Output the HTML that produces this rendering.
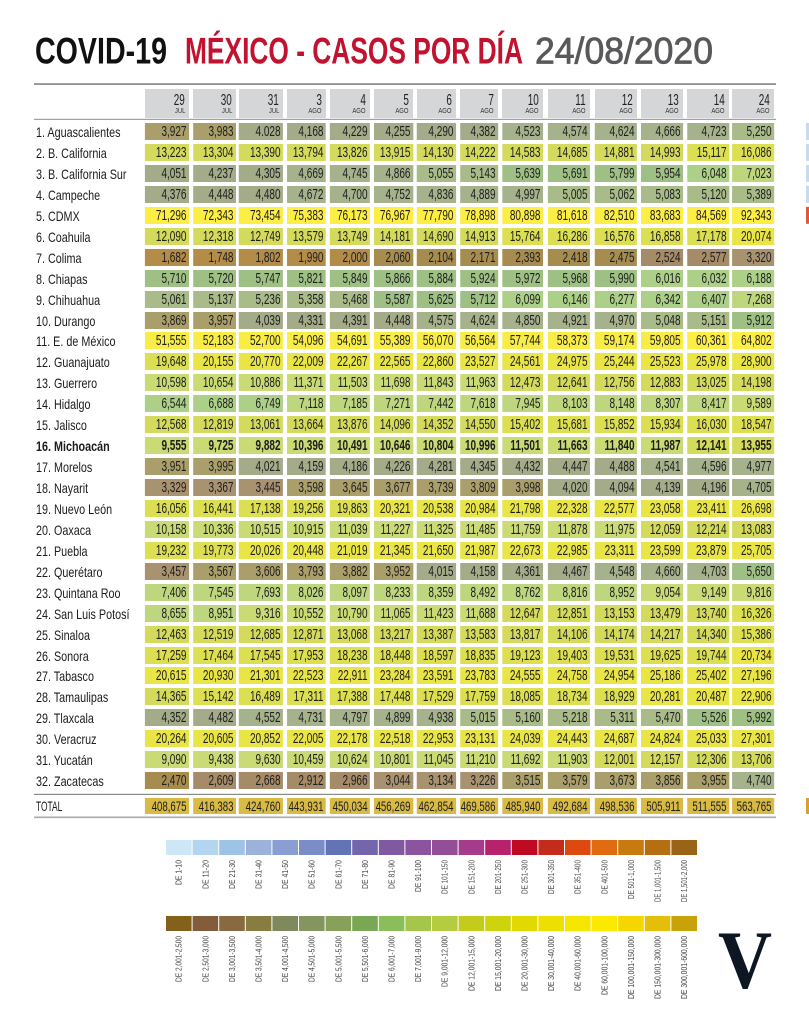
<!DOCTYPE html>
<html><head><meta charset="utf-8">
<style>
html,body{margin:0;padding:0}
body{width:809px;height:1024px;background:#fff;position:relative;overflow:hidden;font-family:"Liberation Sans",sans-serif;}
svg.bg{position:absolute;left:0;top:0}
.w{position:absolute;left:0;width:809px;height:17px}
.lb{position:absolute;left:36px;top:0;line-height:19px;font-size:14px;color:#1c1c1c;white-space:nowrap;transform:scaleX(.77);transform-origin:0 0}
.bd .lb,.bd i{font-weight:bold}
.n{position:absolute;left:0;top:0;width:1200px;height:17px;transform:scaleX(.69);transform-origin:0 0}
.n i{position:absolute;top:0;height:17px;line-height:19px;font-size:14.5px;font-style:normal;text-align:right;padding-right:3.6px;box-sizing:border-box;color:#1e1e1e;white-space:nowrap}
.tot .n i{height:16px;line-height:17px;font-size:14px}
.tot .lb{transform:scaleX(.6);line-height:17px}
.x0{left:210.1px;width:63.8px}.x1{left:279.7px;width:62.3px}.x2{left:346.4px;width:63.8px}
.x3{left:415.9px;width:56.5px}.x4{left:478.3px;width:58px}.x5{left:542px;width:56.5px}
.x6{left:604.3px;width:56.5px}.x7{left:666.7px;width:55.1px}.x8{left:727.5px;width:59.4px}
.x9{left:794.2px;width:60.9px}.x10{left:862.3px;width:60.9px}.x11{left:929px;width:60.9px}
.x12{left:995.7px;width:60.9px}.x13{left:1060.9px;width:60.9px}
.k{background:#b38c4a}.a{background:#a78c50}.b{background:#a68b68}.c{background:#a99270}
.d{background:#aa9f6a}.e{background:#a3ab89}.f{background:#a6b28c}.g{background:#a8bb88}
.h{background:#9fc084}.i{background:#acd088}.j{background:#bed67d}.l{background:#cada74}
.m{background:#d4db5c}.p{background:#dcdf52}.o{background:#e9e547}.q{background:#f8ed47}
.s{background:#fcee45}.t{background:#d9ba45}
.hb{position:absolute;top:89px;height:29px;background:#d5d6d8}
.hb b{position:absolute;right:4px;top:3.5px;font-size:16px;line-height:16px;font-weight:normal;color:#222;transform:scaleX(.62);transform-origin:100% 0;white-space:nowrap}
.hb u{position:absolute;right:4px;top:18.6px;font-size:7px;line-height:7px;text-decoration:none;color:#333;transform:scaleX(.85);transform-origin:100% 0;white-space:nowrap}
</style></head>
<body>
<svg class="bg" width="809" height="1024" viewBox="0 0 809 1024">
<g font-family="Liberation Sans" font-size="37">
<text x="35" y="63.5" font-weight="bold" textLength="132" lengthAdjust="spacingAndGlyphs" fill="#111">COVID-19</text>
<text x="185" y="63.5" font-weight="bold" textLength="338" lengthAdjust="spacingAndGlyphs" fill="#c1122f">MÉXICO - CASOS POR DÍA</text>
<text x="535" y="63.5" textLength="178" lengthAdjust="spacingAndGlyphs" fill="#58595b" stroke="#58595b" stroke-width="0.8">24/08/2020</text>
</g>
<rect x="34" y="83.3" width="742" height="1.5" fill="#7a7a7a"/>
<rect x="34" y="118.8" width="742" height="1" fill="#8a8a8a"/>
<rect x="34" y="793.8" width="742" height="1.2" fill="#8a8a8a"/>
<rect x="34" y="816.5" width="742" height="1.6" fill="#aaaaaa"/>
<!-- right edge strip -->
<g fill="#c6dbef">
<rect x="806" y="123" width="3" height="17"/><rect x="806" y="143.9" width="3" height="17"/><rect x="806" y="164.9" width="3" height="17"/><rect x="806" y="185.8" width="3" height="17"/>
</g>
<rect x="806" y="206.8" width="3" height="17" fill="#e0583a"/>
<rect x="806" y="798" width="3" height="16" fill="#d9a030"/>
<!-- legend row 1 -->
<g>
<rect x="166" y="840" width="25.6" height="15" fill="#cde7f6"/>
<rect x="192.6" y="840" width="25.6" height="15" fill="#b2d6ef"/>
<rect x="219.2" y="840" width="25.6" height="15" fill="#9ec3e5"/>
<rect x="245.8" y="840" width="25.6" height="15" fill="#9db2da"/>
<rect x="272.4" y="840" width="25.6" height="15" fill="#8a9ed1"/>
<rect x="299" y="840" width="25.6" height="15" fill="#7c8cc6"/>
<rect x="325.6" y="840" width="25.6" height="15" fill="#6473b4"/>
<rect x="352.2" y="840" width="25.6" height="15" fill="#7466ad"/>
<rect x="378.8" y="840" width="25.6" height="15" fill="#7f5aa1"/>
<rect x="405.4" y="840" width="25.6" height="15" fill="#8a559e"/>
<rect x="432" y="840" width="25.6" height="15" fill="#924f97"/>
<rect x="458.6" y="840" width="25.6" height="15" fill="#a43c8a"/>
<rect x="485.2" y="840" width="25.6" height="15" fill="#b6226c"/>
<rect x="511.8" y="840" width="25.6" height="15" fill="#be0b22"/>
<rect x="538.4" y="840" width="25.6" height="15" fill="#c52b1c"/>
<rect x="565" y="840" width="25.6" height="15" fill="#dc4a10"/>
<rect x="591.6" y="840" width="25.6" height="15" fill="#e06b10"/>
<rect x="618.2" y="840" width="25.6" height="15" fill="#c67a10"/>
<rect x="644.8" y="840" width="25.6" height="15" fill="#b46f10"/>
<rect x="671.4" y="840" width="25.6" height="15" fill="#9a6418"/>
</g>
<!-- legend row 2 -->
<g>
<rect x="166" y="916" width="25.6" height="15" fill="#84611a"/>
<rect x="192.6" y="916" width="25.6" height="15" fill="#835c3b"/>
<rect x="219.2" y="916" width="25.6" height="15" fill="#876a3f"/>
<rect x="245.8" y="916" width="25.6" height="15" fill="#887d41"/>
<rect x="272.4" y="916" width="25.6" height="15" fill="#7f8a5c"/>
<rect x="299" y="916" width="25.6" height="15" fill="#84955f"/>
<rect x="325.6" y="916" width="25.6" height="15" fill="#87a05b"/>
<rect x="352.2" y="916" width="25.6" height="15" fill="#79a855"/>
<rect x="378.8" y="916" width="25.6" height="15" fill="#8bbd5a"/>
<rect x="405.4" y="916" width="25.6" height="15" fill="#a5c54b"/>
<rect x="432" y="916" width="25.6" height="15" fill="#b4cc3f"/>
<rect x="458.6" y="916" width="25.6" height="15" fill="#c3cb1d"/>
<rect x="485.2" y="916" width="25.6" height="15" fill="#cdd30d"/>
<rect x="511.8" y="916" width="25.6" height="15" fill="#e0da00"/>
<rect x="538.4" y="916" width="25.6" height="15" fill="#ede000"/>
<rect x="565" y="916" width="25.6" height="15" fill="#f5e600"/>
<rect x="591.6" y="916" width="25.6" height="15" fill="#fbe900"/>
<rect x="618.2" y="916" width="25.6" height="15" fill="#f6d600"/>
<rect x="644.8" y="916" width="25.6" height="15" fill="#e3be0b"/>
<rect x="671.4" y="916" width="25.6" height="15" fill="#c9a20b"/>
</g>
<g font-family="Liberation Sans" font-size="8" fill="#444" text-anchor="end" lengthAdjust="spacingAndGlyphs">
<text transform="translate(181.7,860) rotate(-90)" textLength="25" lengthAdjust="spacingAndGlyphs">DE 1-10</text>
<text transform="translate(208.3,860) rotate(-90)" textLength="29" lengthAdjust="spacingAndGlyphs">DE 11-20</text>
<text transform="translate(234.9,860) rotate(-90)" textLength="29" lengthAdjust="spacingAndGlyphs">DE 21-30</text>
<text transform="translate(261.5,860) rotate(-90)" textLength="29" lengthAdjust="spacingAndGlyphs">DE 31-40</text>
<text transform="translate(288.1,860) rotate(-90)" textLength="29" lengthAdjust="spacingAndGlyphs">DE 41-50</text>
<text transform="translate(314.7,860) rotate(-90)" textLength="29" lengthAdjust="spacingAndGlyphs">DE 51-60</text>
<text transform="translate(341.3,860) rotate(-90)" textLength="29" lengthAdjust="spacingAndGlyphs">DE 61-70</text>
<text transform="translate(367.9,860) rotate(-90)" textLength="29" lengthAdjust="spacingAndGlyphs">DE 71-80</text>
<text transform="translate(394.5,860) rotate(-90)" textLength="29" lengthAdjust="spacingAndGlyphs">DE 81-90</text>
<text transform="translate(421.1,860) rotate(-90)" textLength="32" lengthAdjust="spacingAndGlyphs">DE 91-100</text>
<text transform="translate(447.7,860) rotate(-90)" textLength="34" lengthAdjust="spacingAndGlyphs">DE 101-150</text>
<text transform="translate(474.3,860) rotate(-90)" textLength="34" lengthAdjust="spacingAndGlyphs">DE 151-200</text>
<text transform="translate(500.9,860) rotate(-90)" textLength="34" lengthAdjust="spacingAndGlyphs">DE 201-250</text>
<text transform="translate(527.5,860) rotate(-90)" textLength="34" lengthAdjust="spacingAndGlyphs">DE 251-300</text>
<text transform="translate(554.1,860) rotate(-90)" textLength="34" lengthAdjust="spacingAndGlyphs">DE 301-350</text>
<text transform="translate(580.7,860) rotate(-90)" textLength="34" lengthAdjust="spacingAndGlyphs">DE 351-400</text>
<text transform="translate(607.3,860) rotate(-90)" textLength="34" lengthAdjust="spacingAndGlyphs">DE 401-500</text>
<text transform="translate(633.9,860) rotate(-90)" textLength="39" lengthAdjust="spacingAndGlyphs">DE 501-1,000</text>
<text transform="translate(660.5,860) rotate(-90)" textLength="42" lengthAdjust="spacingAndGlyphs">DE 1,001-1,500</text>
<text transform="translate(687.1,860) rotate(-90)" textLength="42" lengthAdjust="spacingAndGlyphs">DE 1,501-2,000</text>

<text transform="translate(181.7,936) rotate(-90)" textLength="46" lengthAdjust="spacingAndGlyphs">DE 2,001-2,500</text>
<text transform="translate(208.3,936) rotate(-90)" textLength="46" lengthAdjust="spacingAndGlyphs">DE 2,501-3,000</text>
<text transform="translate(234.9,936) rotate(-90)" textLength="46" lengthAdjust="spacingAndGlyphs">DE 3,001-3,500</text>
<text transform="translate(261.5,936) rotate(-90)" textLength="46" lengthAdjust="spacingAndGlyphs">DE 3,501-4,000</text>
<text transform="translate(288.1,936) rotate(-90)" textLength="46" lengthAdjust="spacingAndGlyphs">DE 4,001-4,500</text>
<text transform="translate(314.7,936) rotate(-90)" textLength="46" lengthAdjust="spacingAndGlyphs">DE 4,501-5,000</text>
<text transform="translate(341.3,936) rotate(-90)" textLength="46" lengthAdjust="spacingAndGlyphs">DE 5,001-5,500</text>
<text transform="translate(367.9,936) rotate(-90)" textLength="46" lengthAdjust="spacingAndGlyphs">DE 5,501-6,000</text>
<text transform="translate(394.5,936) rotate(-90)" textLength="46" lengthAdjust="spacingAndGlyphs">DE 6,001-7,000</text>
<text transform="translate(421.1,936) rotate(-90)" textLength="46" lengthAdjust="spacingAndGlyphs">DE 7,001-9,000</text>
<text transform="translate(447.7,936) rotate(-90)" textLength="51" lengthAdjust="spacingAndGlyphs">DE 9,001-12,000</text>
<text transform="translate(474.3,936) rotate(-90)" textLength="55" lengthAdjust="spacingAndGlyphs">DE 12,001-15,000</text>
<text transform="translate(500.9,936) rotate(-90)" textLength="55" lengthAdjust="spacingAndGlyphs">DE 15,001-20,000</text>
<text transform="translate(527.5,936) rotate(-90)" textLength="55" lengthAdjust="spacingAndGlyphs">DE 20,001-30,000</text>
<text transform="translate(554.1,936) rotate(-90)" textLength="55" lengthAdjust="spacingAndGlyphs">DE 30,001-40,000</text>
<text transform="translate(580.7,936) rotate(-90)" textLength="55" lengthAdjust="spacingAndGlyphs">DE 40,001-60,000</text>
<text transform="translate(607.3,936) rotate(-90)" textLength="59" lengthAdjust="spacingAndGlyphs">DE 60,001-100,000</text>
<text transform="translate(633.9,936) rotate(-90)" textLength="63" lengthAdjust="spacingAndGlyphs">DE 100,001-150,000</text>
<text transform="translate(660.5,936) rotate(-90)" textLength="63" lengthAdjust="spacingAndGlyphs">DE 150,001-300,000</text>
<text transform="translate(687.1,936) rotate(-90)" textLength="63" lengthAdjust="spacingAndGlyphs">DE 300,001-600,000</text>
</g>
<text x="718" y="988" font-family="Liberation Serif" font-weight="bold" font-size="83" textLength="54" lengthAdjust="spacingAndGlyphs" fill="#0e1624">V</text>
</svg>

<!-- header -->
<div class="hb" style="left:145px;width:44px"><b>29</b><u>JUL</u></div>
<div class="hb" style="left:193px;width:43px"><b>30</b><u>JUL</u></div>
<div class="hb" style="left:239px;width:44px"><b>31</b><u>JUL</u></div>
<div class="hb" style="left:287px;width:39px"><b>3</b><u>AGO</u></div>
<div class="hb" style="left:330px;width:40px"><b>4</b><u>AGO</u></div>
<div class="hb" style="left:374px;width:39px"><b>5</b><u>AGO</u></div>
<div class="hb" style="left:417px;width:39px"><b>6</b><u>AGO</u></div>
<div class="hb" style="left:460px;width:38px"><b>7</b><u>AGO</u></div>
<div class="hb" style="left:502px;width:41px"><b>10</b><u>AGO</u></div>
<div class="hb" style="left:548px;width:42px"><b>11</b><u>AGO</u></div>
<div class="hb" style="left:595px;width:42px"><b>12</b><u>AGO</u></div>
<div class="hb" style="left:641px;width:42px"><b>13</b><u>AGO</u></div>
<div class="hb" style="left:687px;width:42px"><b>14</b><u>AGO</u></div>
<div class="hb" style="left:732px;width:42px"><b>24</b><u>AGO</u></div>

<div class="w" style="top:123px"><span class="lb">1. Aguascalientes</span><div class="n"><i class="x0 d">3,927</i><i class="x1 d">3,983</i><i class="x2 e">4.028</i><i class="x3 e">4,168</i><i class="x4 e">4,229</i><i class="x5 e">4,255</i><i class="x6 e">4,290</i><i class="x7 e">4,382</i><i class="x8 f">4,523</i><i class="x9 f">4,574</i><i class="x10 f">4,624</i><i class="x11 f">4,666</i><i class="x12 f">4,723</i><i class="x13 g">5,250</i></div></div>
<div class="w" style="top:143.9px"><span class="lb">2. B. California</span><div class="n"><i class="x0 m">13,223</i><i class="x1 m">13,304</i><i class="x2 m">13,390</i><i class="x3 m">13,794</i><i class="x4 m">13,826</i><i class="x5 m">13,915</i><i class="x6 m">14,130</i><i class="x7 m">14,222</i><i class="x8 m">14,583</i><i class="x9 m">14,685</i><i class="x10 m">14,881</i><i class="x11 m">14,993</i><i class="x12 p">15,117</i><i class="x13 p">16,086</i></div></div>
<div class="w" style="top:164.9px"><span class="lb">3. B. California Sur</span><div class="n"><i class="x0 e">4,051</i><i class="x1 e">4,237</i><i class="x2 e">4,305</i><i class="x3 f">4,669</i><i class="x4 f">4,745</i><i class="x5 f">4,866</i><i class="x6 g">5,055</i><i class="x7 g">5,143</i><i class="x8 h">5,639</i><i class="x9 h">5,691</i><i class="x10 h">5,799</i><i class="x11 h">5,954</i><i class="x12 i">6,048</i><i class="x13 j">7,023</i></div></div>
<div class="w" style="top:185.8px"><span class="lb">4. Campeche</span><div class="n"><i class="x0 e">4,376</i><i class="x1 e">4,448</i><i class="x2 e">4,480</i><i class="x3 f">4,672</i><i class="x4 f">4,700</i><i class="x5 f">4,752</i><i class="x6 f">4,836</i><i class="x7 f">4,889</i><i class="x8 f">4,997</i><i class="x9 g">5,005</i><i class="x10 g">5,062</i><i class="x11 g">5,083</i><i class="x12 g">5,120</i><i class="x13 g">5,389</i></div></div>
<div class="w" style="top:206.8px"><span class="lb">5. CDMX</span><div class="n"><i class="x0 s">71,296</i><i class="x1 s">72,343</i><i class="x2 s">73,454</i><i class="x3 s">75,383</i><i class="x4 s">76,173</i><i class="x5 s">76,967</i><i class="x6 s">77,790</i><i class="x7 s">78,898</i><i class="x8 s">80,898</i><i class="x9 s">81,618</i><i class="x10 s">82,510</i><i class="x11 s">83,683</i><i class="x12 s">84,569</i><i class="x13 s">92,343</i></div></div>
<div class="w" style="top:227.7px"><span class="lb">6. Coahuila</span><div class="n"><i class="x0 m">12,090</i><i class="x1 m">12,318</i><i class="x2 m">12,749</i><i class="x3 m">13,579</i><i class="x4 m">13,749</i><i class="x5 m">14,181</i><i class="x6 m">14,690</i><i class="x7 m">14,913</i><i class="x8 p">15,764</i><i class="x9 p">16,286</i><i class="x10 p">16,576</i><i class="x11 p">16,858</i><i class="x12 p">17,178</i><i class="x13 o">20,074</i></div></div>
<div class="w" style="top:248.6px"><span class="lb">7. Colima</span><div class="n"><i class="x0 k">1,682</i><i class="x1 k">1,748</i><i class="x2 k">1,802</i><i class="x3 k">1,990</i><i class="x4 k">2,000</i><i class="x5 a">2,060</i><i class="x6 a">2,104</i><i class="x7 a">2,171</i><i class="x8 a">2,393</i><i class="x9 a">2,418</i><i class="x10 a">2,475</i><i class="x11 b">2,524</i><i class="x12 b">2,577</i><i class="x13 c">3,320</i></div></div>
<div class="w" style="top:269.6px"><span class="lb">8. Chiapas</span><div class="n"><i class="x0 h">5,710</i><i class="x1 h">5,720</i><i class="x2 h">5,747</i><i class="x3 h">5,821</i><i class="x4 h">5,849</i><i class="x5 h">5,866</i><i class="x6 h">5,884</i><i class="x7 h">5,924</i><i class="x8 h">5,972</i><i class="x9 h">5,968</i><i class="x10 h">5,990</i><i class="x11 i">6,016</i><i class="x12 i">6,032</i><i class="x13 i">6,188</i></div></div>
<div class="w" style="top:290.5px"><span class="lb">9. Chihuahua</span><div class="n"><i class="x0 g">5,061</i><i class="x1 g">5,137</i><i class="x2 g">5,236</i><i class="x3 g">5,358</i><i class="x4 g">5,468</i><i class="x5 h">5,587</i><i class="x6 h">5,625</i><i class="x7 h">5,712</i><i class="x8 i">6,099</i><i class="x9 i">6,146</i><i class="x10 i">6,277</i><i class="x11 i">6,342</i><i class="x12 i">6,407</i><i class="x13 j">7,268</i></div></div>
<div class="w" style="top:311.5px"><span class="lb">10. Durango</span><div class="n"><i class="x0 d">3,869</i><i class="x1 d">3,957</i><i class="x2 e">4,039</i><i class="x3 e">4,331</i><i class="x4 e">4,391</i><i class="x5 e">4,448</i><i class="x6 f">4,575</i><i class="x7 f">4,624</i><i class="x8 f">4,850</i><i class="x9 f">4,921</i><i class="x10 f">4,970</i><i class="x11 g">5,048</i><i class="x12 g">5,151</i><i class="x13 h">5,912</i></div></div>
<div class="w" style="top:332.4px"><span class="lb">11. E. de México</span><div class="n"><i class="x0 q">51,555</i><i class="x1 q">52,183</i><i class="x2 q">52,700</i><i class="x3 q">54,096</i><i class="x4 q">54,691</i><i class="x5 q">55,389</i><i class="x6 q">56,070</i><i class="x7 q">56,564</i><i class="x8 q">57,744</i><i class="x9 q">58,373</i><i class="x10 q">59,174</i><i class="x11 q">59,805</i><i class="x12 s">60,361</i><i class="x13 s">64,802</i></div></div>
<div class="w" style="top:353.3px"><span class="lb">12. Guanajuato</span><div class="n"><i class="x0 p">19,648</i><i class="x1 o">20,155</i><i class="x2 o">20,770</i><i class="x3 o">22,009</i><i class="x4 o">22,267</i><i class="x5 o">22,565</i><i class="x6 o">22,860</i><i class="x7 o">23,527</i><i class="x8 o">24,561</i><i class="x9 o">24,975</i><i class="x10 o">25,244</i><i class="x11 o">25,523</i><i class="x12 o">25,978</i><i class="x13 o">28,900</i></div></div>
<div class="w" style="top:374.3px"><span class="lb">13. Guerrero</span><div class="n"><i class="x0 l">10,598</i><i class="x1 l">10,654</i><i class="x2 l">10,886</i><i class="x3 l">11,371</i><i class="x4 l">11,503</i><i class="x5 l">11,698</i><i class="x6 l">11,843</i><i class="x7 l">11,963</i><i class="x8 m">12,473</i><i class="x9 m">12,641</i><i class="x10 m">12,756</i><i class="x11 m">12,883</i><i class="x12 m">13,025</i><i class="x13 m">14,198</i></div></div>
<div class="w" style="top:395.2px"><span class="lb">14. Hidalgo</span><div class="n"><i class="x0 i">6,544</i><i class="x1 i">6,688</i><i class="x2 i">6,749</i><i class="x3 j">7,118</i><i class="x4 j">7,185</i><i class="x5 j">7,271</i><i class="x6 j">7,442</i><i class="x7 j">7,618</i><i class="x8 j">7,945</i><i class="x9 j">8,103</i><i class="x10 j">8,148</i><i class="x11 j">8,307</i><i class="x12 j">8,417</i><i class="x13 l">9,589</i></div></div>
<div class="w" style="top:416.2px"><span class="lb">15. Jalisco</span><div class="n"><i class="x0 m">12,568</i><i class="x1 m">12,819</i><i class="x2 m">13,061</i><i class="x3 m">13,664</i><i class="x4 m">13,876</i><i class="x5 m">14,096</i><i class="x6 m">14,352</i><i class="x7 m">14,550</i><i class="x8 p">15,402</i><i class="x9 p">15,681</i><i class="x10 p">15,852</i><i class="x11 p">15,934</i><i class="x12 p">16,030</i><i class="x13 p">18,547</i></div></div>
<div class="w bd" style="top:437.1px"><span class="lb">16. Michoacán</span><div class="n"><i class="x0 l">9,555</i><i class="x1 l">9,725</i><i class="x2 l">9,882</i><i class="x3 l">10,396</i><i class="x4 l">10,491</i><i class="x5 l">10,646</i><i class="x6 l">10,804</i><i class="x7 l">10,996</i><i class="x8 l">11,501</i><i class="x9 l">11,663</i><i class="x10 l">11,840</i><i class="x11 l">11,987</i><i class="x12 m">12,141</i><i class="x13 m">13,955</i></div></div>
<div class="w" style="top:458px"><span class="lb">17. Morelos</span><div class="n"><i class="x0 d">3,951</i><i class="x1 d">3,995</i><i class="x2 e">4,021</i><i class="x3 e">4,159</i><i class="x4 e">4,186</i><i class="x5 e">4,226</i><i class="x6 e">4,281</i><i class="x7 e">4,345</i><i class="x8 e">4,432</i><i class="x9 e">4,447</i><i class="x10 e">4,488</i><i class="x11 f">4,541</i><i class="x12 f">4,596</i><i class="x13 f">4,977</i></div></div>
<div class="w" style="top:479px"><span class="lb">18. Nayarit</span><div class="n"><i class="x0 c">3,329</i><i class="x1 c">3,367</i><i class="x2 c">3,445</i><i class="x3 d">3,598</i><i class="x4 d">3,645</i><i class="x5 d">3,677</i><i class="x6 d">3,739</i><i class="x7 d">3,809</i><i class="x8 d">3,998</i><i class="x9 e">4,020</i><i class="x10 e">4,094</i><i class="x11 e">4,139</i><i class="x12 e">4,196</i><i class="x13 f">4,705</i></div></div>
<div class="w" style="top:499.9px"><span class="lb">19. Nuevo León</span><div class="n"><i class="x0 p">16,056</i><i class="x1 p">16,441</i><i class="x2 p">17,138</i><i class="x3 p">19,256</i><i class="x4 p">19,863</i><i class="x5 o">20,321</i><i class="x6 o">20,538</i><i class="x7 o">20,984</i><i class="x8 o">21,798</i><i class="x9 o">22,328</i><i class="x10 o">22,577</i><i class="x11 o">23,058</i><i class="x12 o">23,411</i><i class="x13 o">26,698</i></div></div>
<div class="w" style="top:520.9px"><span class="lb">20. Oaxaca</span><div class="n"><i class="x0 l">10,158</i><i class="x1 l">10,336</i><i class="x2 l">10,515</i><i class="x3 l">10,915</i><i class="x4 l">11,039</i><i class="x5 l">11,227</i><i class="x6 l">11,325</i><i class="x7 l">11,485</i><i class="x8 l">11,759</i><i class="x9 l">11,878</i><i class="x10 l">11,975</i><i class="x11 m">12,059</i><i class="x12 m">12,214</i><i class="x13 m">13,083</i></div></div>
<div class="w" style="top:541.8px"><span class="lb">21. Puebla</span><div class="n"><i class="x0 p">19,232</i><i class="x1 p">19,773</i><i class="x2 o">20,026</i><i class="x3 o">20,448</i><i class="x4 o">21,019</i><i class="x5 o">21,345</i><i class="x6 o">21,650</i><i class="x7 o">21,987</i><i class="x8 o">22,673</i><i class="x9 o">22,985</i><i class="x10 o">23,311</i><i class="x11 o">23,599</i><i class="x12 o">23,879</i><i class="x13 o">25,705</i></div></div>
<div class="w" style="top:562.7px"><span class="lb">22. Querétaro</span><div class="n"><i class="x0 c">3,457</i><i class="x1 d">3,567</i><i class="x2 d">3,606</i><i class="x3 d">3,793</i><i class="x4 d">3,882</i><i class="x5 d">3,952</i><i class="x6 e">4,015</i><i class="x7 e">4,158</i><i class="x8 e">4,361</i><i class="x9 e">4,467</i><i class="x10 f">4,548</i><i class="x11 f">4,660</i><i class="x12 f">4,703</i><i class="x13 h">5,650</i></div></div>
<div class="w" style="top:583.7px"><span class="lb">23. Quintana Roo</span><div class="n"><i class="x0 j">7,406</i><i class="x1 j">7,545</i><i class="x2 j">7,693</i><i class="x3 j">8,026</i><i class="x4 j">8,097</i><i class="x5 j">8,233</i><i class="x6 j">8,359</i><i class="x7 j">8,492</i><i class="x8 j">8,762</i><i class="x9 j">8,816</i><i class="x10 j">8,952</i><i class="x11 l">9,054</i><i class="x12 l">9,149</i><i class="x13 l">9,816</i></div></div>
<div class="w" style="top:604.6px"><span class="lb">24. San Luis Potosí</span><div class="n"><i class="x0 j">8,655</i><i class="x1 j">8,951</i><i class="x2 l">9,316</i><i class="x3 l">10,552</i><i class="x4 l">10,790</i><i class="x5 l">11,065</i><i class="x6 l">11,423</i><i class="x7 l">11,688</i><i class="x8 m">12,647</i><i class="x9 m">12,851</i><i class="x10 m">13,153</i><i class="x11 m">13,479</i><i class="x12 m">13,740</i><i class="x13 p">16,326</i></div></div>
<div class="w" style="top:625.6px"><span class="lb">25. Sinaloa</span><div class="n"><i class="x0 m">12,463</i><i class="x1 m">12,519</i><i class="x2 m">12,685</i><i class="x3 m">12,871</i><i class="x4 m">13,068</i><i class="x5 m">13,217</i><i class="x6 m">13,387</i><i class="x7 m">13,583</i><i class="x8 m">13,817</i><i class="x9 m">14,106</i><i class="x10 m">14,174</i><i class="x11 m">14,217</i><i class="x12 m">14,340</i><i class="x13 p">15,386</i></div></div>
<div class="w" style="top:646.5px"><span class="lb">26. Sonora</span><div class="n"><i class="x0 p">17,259</i><i class="x1 p">17,464</i><i class="x2 p">17,545</i><i class="x3 p">17,953</i><i class="x4 p">18,238</i><i class="x5 p">18,448</i><i class="x6 p">18,597</i><i class="x7 p">18,835</i><i class="x8 p">19,123</i><i class="x9 p">19,403</i><i class="x10 p">19,531</i><i class="x11 p">19,625</i><i class="x12 p">19,744</i><i class="x13 o">20,734</i></div></div>
<div class="w" style="top:667.4px"><span class="lb">27. Tabasco</span><div class="n"><i class="x0 o">20,615</i><i class="x1 o">20,930</i><i class="x2 o">21,301</i><i class="x3 o">22,523</i><i class="x4 o">22,911</i><i class="x5 o">23,284</i><i class="x6 o">23,591</i><i class="x7 o">23,783</i><i class="x8 o">24,555</i><i class="x9 o">24,758</i><i class="x10 o">24,954</i><i class="x11 o">25,186</i><i class="x12 o">25,402</i><i class="x13 o">27,196</i></div></div>
<div class="w" style="top:688.4px"><span class="lb">28. Tamaulipas</span><div class="n"><i class="x0 m">14,365</i><i class="x1 p">15,142</i><i class="x2 p">16,489</i><i class="x3 p">17,311</i><i class="x4 p">17,388</i><i class="x5 p">17,448</i><i class="x6 p">17,529</i><i class="x7 p">17,759</i><i class="x8 p">18,085</i><i class="x9 p">18,734</i><i class="x10 p">18,929</i><i class="x11 o">20,281</i><i class="x12 o">20,487</i><i class="x13 o">22,906</i></div></div>
<div class="w" style="top:709.3px"><span class="lb">29. Tlaxcala</span><div class="n"><i class="x0 e">4,352</i><i class="x1 e">4,482</i><i class="x2 f">4,552</i><i class="x3 f">4,731</i><i class="x4 f">4,797</i><i class="x5 f">4,899</i><i class="x6 f">4,938</i><i class="x7 g">5,015</i><i class="x8 g">5,160</i><i class="x9 g">5,218</i><i class="x10 g">5,311</i><i class="x11 g">5,470</i><i class="x12 h">5,526</i><i class="x13 h">5,992</i></div></div>
<div class="w" style="top:730.3px"><span class="lb">30. Veracruz</span><div class="n"><i class="x0 o">20,264</i><i class="x1 o">20,605</i><i class="x2 o">20,852</i><i class="x3 o">22,005</i><i class="x4 o">22,178</i><i class="x5 o">22,518</i><i class="x6 o">22,953</i><i class="x7 o">23,131</i><i class="x8 o">24,039</i><i class="x9 o">24,443</i><i class="x10 o">24,687</i><i class="x11 o">24,824</i><i class="x12 o">25,033</i><i class="x13 o">27,301</i></div></div>
<div class="w" style="top:751.2px"><span class="lb">31. Yucatán</span><div class="n"><i class="x0 l">9,090</i><i class="x1 l">9,438</i><i class="x2 l">9,630</i><i class="x3 l">10,459</i><i class="x4 l">10,624</i><i class="x5 l">10,801</i><i class="x6 l">11,045</i><i class="x7 l">11,210</i><i class="x8 l">11,692</i><i class="x9 l">11,903</i><i class="x10 m">12,001</i><i class="x11 m">12,157</i><i class="x12 m">12,306</i><i class="x13 m">13,706</i></div></div>
<div class="w" style="top:772.1px"><span class="lb">32. Zacatecas</span><div class="n"><i class="x0 a">2,470</i><i class="x1 b">2,609</i><i class="x2 b">2,668</i><i class="x3 b">2,912</i><i class="x4 b">2,966</i><i class="x5 c">3,044</i><i class="x6 c">3,134</i><i class="x7 c">3,226</i><i class="x8 d">3,515</i><i class="x9 d">3,579</i><i class="x10 d">3,673</i><i class="x11 d">3,856</i><i class="x12 d">3,955</i><i class="x13 f">4,740</i></div></div>
<div class="w tot" style="top:798px;height:16px"><span class="lb">TOTAL</span><div class="n"><i class="x0 t">408,675</i><i class="x1 t">416,383</i><i class="x2 t">424,760</i><i class="x3 t">443,931</i><i class="x4 t">450,034</i><i class="x5 t">456,269</i><i class="x6 t">462,854</i><i class="x7 t">469,586</i><i class="x8 t">485,940</i><i class="x9 t">492,684</i><i class="x10 t">498,536</i><i class="x11 t">505,911</i><i class="x12 t">511,555</i><i class="x13 t">563,765</i></div></div>
</body></html>
